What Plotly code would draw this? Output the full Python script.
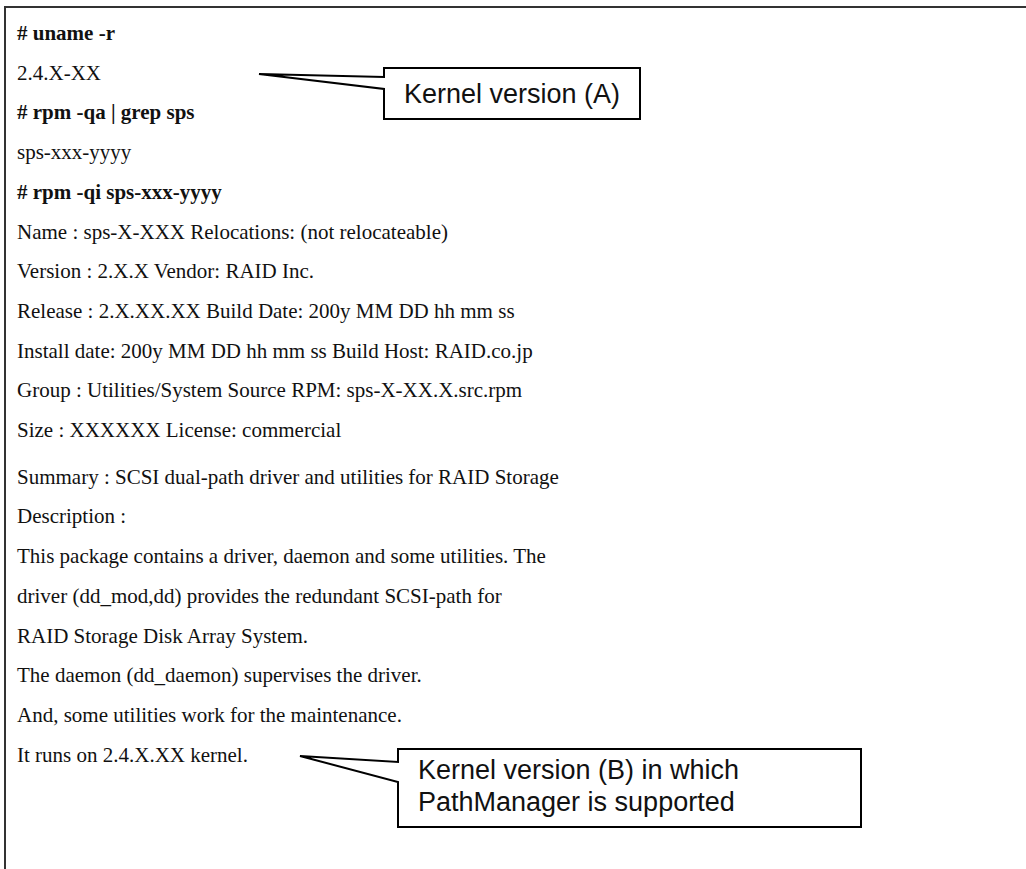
import plotly.graph_objects as go

# command output shown in the listing (bold = typed command)
lines = [
    "# uname -r",
    "2.4.X-XX",
    "# rpm -qa | grep sps",
    "sps-xxx-yyyy",
    "# rpm -qi sps-xxx-yyyy",
    "Name : sps-X-XXX Relocations: (not relocateable)",
    "Version : 2.X.X Vendor: RAID Inc.",
    "Release : 2.X.XX.XX Build Date: 200y MM DD hh mm ss",
    "Install date: 200y MM DD hh mm ss Build Host: RAID.co.jp",
    "Group : Utilities/System Source RPM: sps-X-XX.X.src.rpm",
    "Size : XXXXXX License: commercial",
    "Summary : SCSI dual-path driver and utilities for RAID Storage",
    "Description :",
    "This package contains a driver, daemon and some utilities. The",
    "driver (dd_mod,dd) provides the redundant SCSI-path for",
    "RAID Storage Disk Array System.",
    "The daemon (dd_daemon) supervises the driver.",
    "And, some utilities work for the maintenance.",
    "It runs on 2.4.X.XX kernel.",
]
is_command = [True, False, True, False, True] + [False] * 14

callout_a = ["Kernel version (A)"]
callout_b = ["Kernel version (B) in which", "PathManager is supported"]

W, H = 1026, 869


def line_y(i):
    # a little extra space before the Summary line
    return 33 + 39.7 * i + (7 if i >= 11 else 0)


fig = go.Figure()
fig.add_trace(go.Scatter(x=[0, W], y=[0, H], mode="markers",
                         marker=dict(opacity=0), hoverinfo="skip", showlegend=False))

annotations = []
for i, (txt, bold) in enumerate(zip(lines, is_command)):
    annotations.append(dict(
        x=15, y=line_y(i), xref="x", yref="y",
        text="<b>%s</b>" % txt if bold else txt,
        showarrow=False, xanchor="left", yanchor="middle",
        font=dict(family="Liberation Serif, Times New Roman, serif", size=21, color="#111111"),
    ))

sans = dict(family="Liberation Sans, Arial, sans-serif", size=27, color="#111111")
annotations.append(dict(x=402, y=94, xref="x", yref="y", text=callout_a[0],
                        showarrow=False, xanchor="left", yanchor="middle", font=sans))
for k, txt in enumerate(callout_b):
    annotations.append(dict(x=416, y=770 + 32 * k, xref="x", yref="y", text=txt,
                            showarrow=False, xanchor="left", yanchor="middle", font=sans))

shapes = [
    # page frame (top + left edge)
    dict(type="path", xref="x", yref="y", path="M 1026,7 L 5,7 L 5,869",
         line=dict(color="#333333", width=2)),
    # callout A
    dict(type="path", xref="x", yref="y",
         path="M 384,68 L 640,68 L 640,119 L 384,119 L 384,89 L 259,74 L 384,77 Z",
         fillcolor="white", line=dict(color="black", width=2)),
    # callout B
    dict(type="path", xref="x", yref="y",
         path="M 398,749 L 861,749 L 861,827 L 398,827 L 398,782 L 300,756 L 398,762 Z",
         fillcolor="white", line=dict(color="black", width=2)),
]

fig.update_layout(
    width=W, height=H,
    margin=dict(l=0, r=0, t=0, b=0),
    paper_bgcolor="white", plot_bgcolor="white",
    xaxis=dict(range=[0, W], visible=False, fixedrange=True),
    yaxis=dict(range=[H, 0], visible=False, fixedrange=True),
    annotations=annotations,
    shapes=shapes,
    showlegend=False,
)

# drop the default page margin so the figure sits at the window corner
fig.write_html("out.html", config={"displayModeBar": False},
               post_script="document.body.style.margin='0';document.body.style.overflow='hidden';")
